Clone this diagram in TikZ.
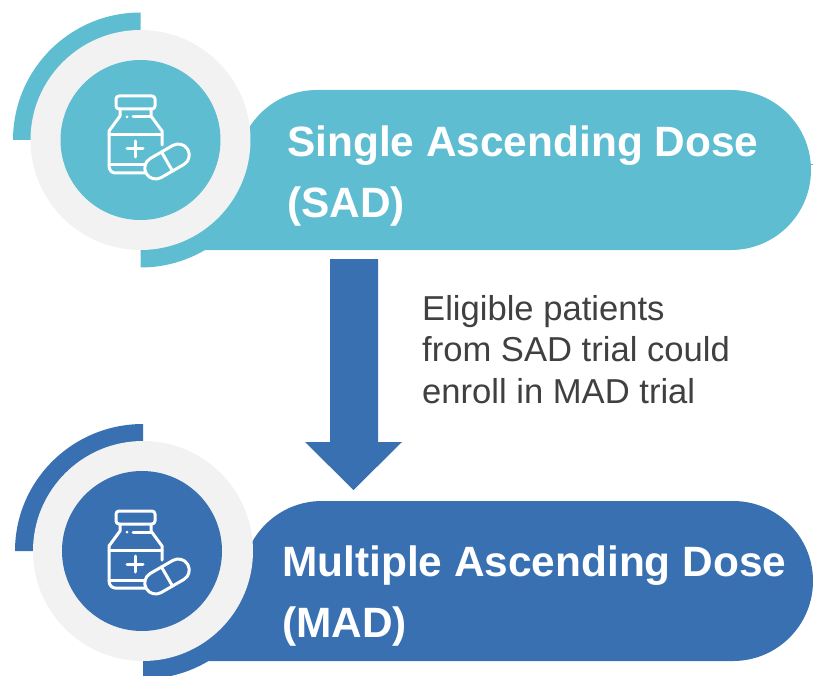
\documentclass[tikz,border=0pt]{standalone}
\usepackage{fontspec}
\setmainfont{Liberation Sans}
\definecolor{tealc}{HTML}{5FBDD2}
\definecolor{bluec}{HTML}{3870B2}
\definecolor{grayc}{HTML}{F2F2F2}
\definecolor{textc}{HTML}{404040}
\tikzset{
  head/.style={anchor=base west,inner sep=0pt,text=white,font=\fontsize{42.4}{42.4}\selectfont\bfseries},
  body/.style={anchor=base west,inner sep=0pt,text=textc,font=\fontsize{34.6}{34.6}\selectfont},
  ic/.style={draw=white,line width=3pt,line cap=round,line join=round}
}
\newcommand{\drugicon}[2]{%
  \begin{scope}[shift={(#1,#2)}]
    \draw[ic,rounded corners=3pt] (-24,-44) rectangle (15,-31);
    \draw[ic] (-20,-31) -- (-20,-24) -- (-31,-9) -- (-31,26) .. controls (-31,30) and (-28,33) .. (-25,33) -- (5,33);
    \draw[ic] (11,-31) -- (11,-24) -- (22,-9) -- (22,5);
    \draw[ic] (-7,-23) -- (11,-23);
    \fill[white] (-13,-23) circle (1.5);
    \draw[ic] (-31,-5) -- (22,-5);
    \draw[ic] (-31,25) -- (4,25);
    \draw[ic] (-5,1) -- (-5,17) (-13,9) -- (3,9);
    \begin{scope}[shift={(27,21.5)},rotate=30]
      \draw[ic] (-13,-11) -- (13,-11) arc (-90:90:11) -- (-13,11) arc (90:270:11) -- cycle;
      \draw[ic] (0,-11) -- (0,11);
    \end{scope}
  \end{scope}}
\begin{document}
\begin{tikzpicture}[x=1pt,y=-1pt]
\useasboundingbox (0,0) rectangle (813,676);
\clip (0,0) rectangle (813,676);
% --- SAD ---
\fill[tealc] (140.5,140) -- (13,140) arc[start angle=180,end angle=90,x radius=127.5,y radius=-127.5] -- cycle;
\fill[tealc] (140.5,140) -- (140.5,267.5) arc[start angle=270,end angle=360,x radius=127.5,y radius=-127.5] -- cycle;
\draw[tealc,line width=1pt] (805,165) -- (813,165);
\fill[tealc] (317,90) -- (731,90) arc[start angle=90,end angle=-90,x radius=80,y radius=-80] -- (200,250) -- (200,170) -- (237,170) arc[start angle=180,end angle=90,x radius=80,y radius=-80] -- cycle;
\fill[grayc] (140.5,140) circle (110);
\fill[tealc] (140.5,140) circle (80);
\drugicon{140}{140}
\node[head] (sad1) at (287,157) {Single Ascending Dose};
\node[head] (sad2) at (287,218) {(SAD)};
% --- arrow ---
\fill[bluec] (330,259) -- (378,259) -- (378,442) -- (402,442) -- (353.5,490) -- (305,442) -- (330,442) -- cycle;
\node[body] (t1) at (422,320) {Eligible patients};
\node[body] (t2) at (422,361) {from SAD trial could};
\node[body] (t3) at (422,403) {enroll in MAD trial};
% --- MAD ---
\fill[bluec] (143,551) -- (15,551) arc[start angle=180,end angle=90,x radius=128,y radius=-127] -- cycle;
\fill[bluec] (143,551) -- (143,679) arc[start angle=270,end angle=360,x radius=128,y radius=-128] -- cycle;
\fill[bluec] (322,501) -- (733,501) arc[start angle=90,end angle=-90,x radius=80,y radius=-80] -- (205,661) -- (205,581) -- (242,581) arc[start angle=180,end angle=90,x radius=80,y radius=-80] -- cycle;
\fill[grayc] (143,551) circle (110);
\fill[bluec] (142,551) circle (80);
\drugicon{140}{555}
\node[head] (mad1) at (282,576) {Multiple Ascending Dose};
\node[head] (mad2) at (282,637) {(MAD)};
\end{tikzpicture}
\end{document}
